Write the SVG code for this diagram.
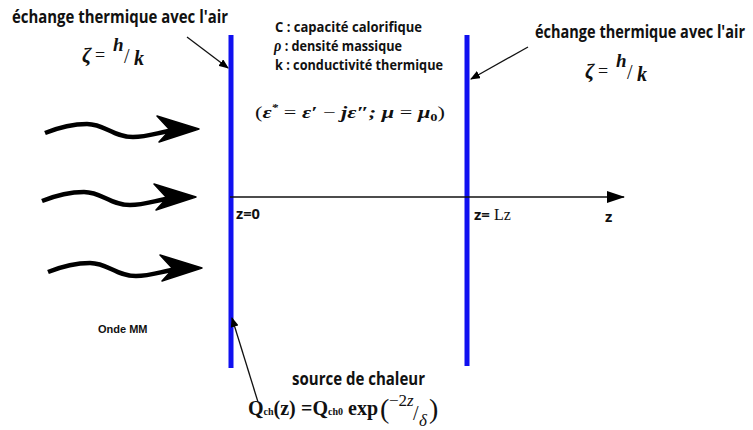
<svg xmlns="http://www.w3.org/2000/svg" width="753" height="430" viewBox="0 0 753 430">
<style>
.lab{font-family:"Open Sans","DejaVu Sans",sans-serif;font-weight:bold;fill:#111}
.math{font-family:"Liberation Serif","DejaVu Serif",serif;fill:#111}
.bar{stroke:#1010f0;stroke-width:5}
.thin{stroke:#111;stroke-width:1.3;fill:none}
.wave{stroke:#000;stroke-width:4.5;fill:none;stroke-linecap:butt}
</style>
<defs>
<marker id="ah" markerWidth="10" markerHeight="8" refX="9" refY="4" orient="auto" markerUnits="userSpaceOnUse">
<path d="M0,0 L10,4 L0,8 Z" fill="#000"/>
</marker>
<marker id="ah2" markerWidth="18" markerHeight="12" refX="17" refY="6" orient="auto" markerUnits="userSpaceOnUse">
<path d="M0,0 L18,6 L0,12 Z" fill="#000"/>
</marker>
<path id="wv" d="M0,0 C15,-6 28,-9 42,-9 C60,-9 68,4 88,4 C104,4 114,-1 130,-3"/>
<path id="wh" d="M154,-4 L112,-17 L125,-3 L114,9 Z"/>
</defs>

<g id="walls">
<line class="bar" x1="231" y1="35" x2="231" y2="368"/>
<line class="bar" x1="467" y1="35" x2="467" y2="366"/>
</g>

<g id="waves">
<g transform="translate(45,133)"><use href="#wv" class="wave"/><use href="#wh" fill="#000" stroke="#000" stroke-width="1.5" stroke-linejoin="round"/></g>
<g transform="translate(42,201)"><use href="#wv" class="wave"/><use href="#wh" fill="#000" stroke="#000" stroke-width="1.5" stroke-linejoin="round"/></g>
<g transform="translate(48,272)"><use href="#wv" class="wave"/><use href="#wh" fill="#000" stroke="#000" stroke-width="1.5" stroke-linejoin="round"/></g>
</g>

<g id="connectors">
<line class="thin" x1="230" y1="197" x2="624" y2="197" marker-end="url(#ah2)"/>
<line class="thin" x1="187" y1="37" x2="228" y2="68" marker-end="url(#ah)"/>
<line class="thin" x1="528" y1="47" x2="471" y2="79" marker-end="url(#ah)"/>
<line class="thin" x1="258" y1="402" x2="232" y2="318" marker-end="url(#ah)"/>
</g>

<g id="left-label">
<text class="lab" x="12" y="23" font-size="18.5" textLength="216" lengthAdjust="spacingAndGlyphs">échange thermique avec l'air</text>
<text class="math" x="82" y="62" font-size="21" font-style="italic" font-weight="bold">ζ</text>
<text class="math" x="95" y="61" font-size="18">=</text>
<text class="math" x="113" y="51" font-size="19" font-style="italic" font-weight="bold">h</text>
<text class="math" x="124" y="63" font-size="20">/</text>
<text class="math" x="134" y="65" font-size="20" font-style="italic" font-weight="bold">k</text>
</g>

<g id="right-label">
<text class="lab" x="535" y="38" font-size="17" textLength="210" lengthAdjust="spacingAndGlyphs">échange thermique avec l'air</text>
<text class="math" x="585" y="78" font-size="21" font-style="italic" font-weight="bold">ζ</text>
<text class="math" x="598" y="77" font-size="18">=</text>
<text class="math" x="616" y="67" font-size="19" font-style="italic" font-weight="bold">h</text>
<text class="math" x="627" y="79" font-size="20">/</text>
<text class="math" x="637" y="81" font-size="20" font-style="italic" font-weight="bold">k</text>
</g>

<g id="properties">
<text class="lab" x="275" y="32" font-size="15" textLength="147" lengthAdjust="spacingAndGlyphs">C : capacité calorifique</text>
<text class="lab" x="274" y="51" font-size="15" textLength="128" lengthAdjust="spacingAndGlyphs"><tspan class="math" font-style="italic" font-size="17">ρ</tspan> : densité massique</text>
<text class="lab" x="275" y="70" font-size="15" textLength="168" lengthAdjust="spacingAndGlyphs">k : conductivité thermique</text>
</g>

<g id="permittivity">
<text class="math" x="255" y="118" font-size="17" font-weight="bold" font-style="italic" textLength="190" lengthAdjust="spacingAndGlyphs"><tspan font-style="normal" font-weight="normal">(</tspan>ε<tspan font-size="10" dy="-7">*</tspan><tspan dy="7" font-style="normal" font-weight="normal"> = </tspan>ε′ <tspan font-style="normal" font-weight="normal">−</tspan> jε″; μ <tspan font-style="normal" font-weight="normal">=</tspan> μ<tspan font-size="11" dy="3" font-style="normal">0</tspan><tspan dy="-3" font-style="normal" font-weight="normal">)</tspan></text>
</g>

<g id="axis-labels">
<text class="lab" x="236" y="219" font-size="15" textLength="24" lengthAdjust="spacingAndGlyphs">z=0</text>
<text class="lab" x="474" y="220" font-size="15">z=<tspan class="math" font-size="16" font-weight="normal"> Lz</tspan></text>
<text class="lab" x="605" y="222" font-size="15">z</text>
</g>

<g id="onde">
<text x="98" y="333" font-family="Liberation Sans,Arial,sans-serif" font-weight="bold" font-size="11" fill="#111">Onde MM</text>
</g>

<g id="source">
<text class="lab" x="292" y="385" font-size="18" textLength="133" lengthAdjust="spacingAndGlyphs">source de chaleur</text>
<text class="math" x="248" y="415" font-size="20" font-weight="bold">Q<tspan font-size="10">ch</tspan>(z)</text>
<text class="math" x="301" y="415" font-size="20" font-weight="bold">=Q<tspan font-size="10">ch0</tspan><tspan x="348">exp</tspan></text>
<text class="math" x="380" y="418" font-size="28">(</text>
<text class="math" x="389" y="406" font-size="17">−2<tspan font-style="italic">z</tspan></text>
<text class="math" x="413" y="420" font-size="20">/</text>
<text class="math" x="419" y="426" font-size="17" font-style="italic">δ</text>
<text class="math" x="429" y="418" font-size="28">)</text>
</g>
</svg>
